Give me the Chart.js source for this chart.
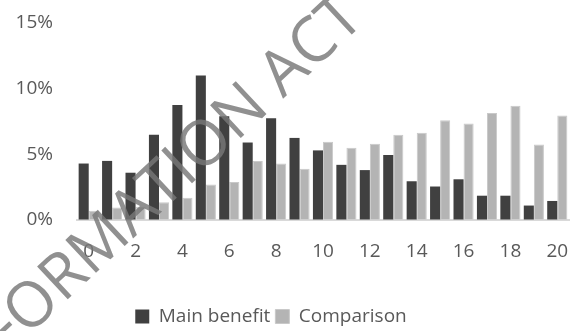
<!DOCTYPE html>
<html>
<head>
<meta charset="utf-8">
<script src="https://cdn.jsdelivr.net/npm/chart.js@4"></script>
<style>
  html, body { margin: 0; padding: 0; background: #fff; }
  #wrap { width: 579px; height: 331px; position: relative; }
</style>
</head>
<body>
<div id="wrap"><canvas id="myChart"></canvas></div>
<script>
const categories = ['0','1','2','3','4','5','6','7','8','9','10','11','12','13','14','15','16','17','18','19','20'];
const mainBenefit = [4.3, 4.5, 3.6, 6.5, 8.75, 11.0, 7.9, 5.9, 7.75, 6.25, 5.3, 4.2, 3.8, 4.95, 2.95, 2.55, 3.1, 1.85, 1.85, 1.1, 1.45];
const comparison = [0.7, 0.95, 1.0, 1.35, 1.7, 2.7, 2.9, 4.5, 4.3, 3.9, 5.95, 5.5, 5.8, 6.5, 6.65, 7.6, 7.35, 8.15, 8.7, 5.75, 7.95];
const yTicks = [0, 5, 10, 15];
const watermark = 'INFORMATION ACT';

const ctx = document.getElementById('myChart').getContext('2d');
Chart.defaults.font.family = '"Open Sans", sans-serif';
Chart.defaults.font.size = 19;
Chart.defaults.color = '#595959';

// grey diagonal stamp drawn over the bars
const stampPlugin = {
  id: 'stamp',
  afterLayout(chart) {
    // legend sits a little left of centre and lower in the original
    chart.legend.left -= 27;
    chart.legend.top += 5;
  },
  afterDraw(chart) {
    const c = chart.ctx;
    c.save();
    c.translate(149, 199);
    c.rotate(-43 * Math.PI / 180);
    c.font = '63px "Open Sans", sans-serif';
    c.fillStyle = 'rgba(120,120,120,0.82)';
    c.textAlign = 'center';
    c.textBaseline = 'middle';
    c.fillText(watermark, 0, 0);
    c.restore();
  }
};

// invisible tick marks are used as the gap between axis and labels
const hiddenTicks = (len) => ({
  display: true,
  drawOnChartArea: false,
  drawTicks: true,
  tickLength: len,
  color: 'rgba(0,0,0,0)',
  tickColor: 'rgba(0,0,0,0)'
});

const myChart = new Chart(ctx, {
  type: 'bar',
  data: {
    labels: categories,
    datasets: [{
      label: 'Main benefit',
      data: mainBenefit,
      backgroundColor: '#404040',
      borderWidth: 0,
      categoryPercentage: 0.86,
      barPercentage: 1.0
    }, {
      label: 'Comparison',
      data: comparison,
      backgroundColor: '#b4b4b4',
      borderColor: '#c9c9c9',
      borderWidth: 1,
      categoryPercentage: 0.86,
      barPercentage: 1.0
    }]
  },
  options: {
    responsive: true,
    maintainAspectRatio: false,
    animation: false,
    layout: { padding: { left: 0, right: 10, top: 23, bottom: 0 } },
    plugins: {
      tooltip: { enabled: false },
      legend: {
        position: 'bottom',
        labels: { boxWidth: 14, boxHeight: 14, padding: 5, color: '#595959' }
      }
    },
    scales: {
      x: {
        grid: hiddenTicks(17),
        border: { display: true, color: '#d9d9d9', width: 2 },
        ticks: {
          autoSkip: false,
          maxRotation: 0,
          padding: 3,
          callback: function(val, i) { return i % 2 === 0 ? categories[i] : ''; }
        },
        afterFit: function(scale) { scale.height = 77; }
      },
      y: {
        min: 0,
        max: 15,
        afterBuildTicks: function(scale) { scale.ticks = yTicks.map(v => ({ value: v })); },
        grid: hiddenTicks(24),
        border: { display: false },
        ticks: {
          padding: 0,
          callback: function(v) { return v + '%'; }
        },
        afterFit: function(scale) { scale.width = 77; }
      }
    }
  },
  plugins: [stampPlugin]
});
</script>
</body>
</html>
